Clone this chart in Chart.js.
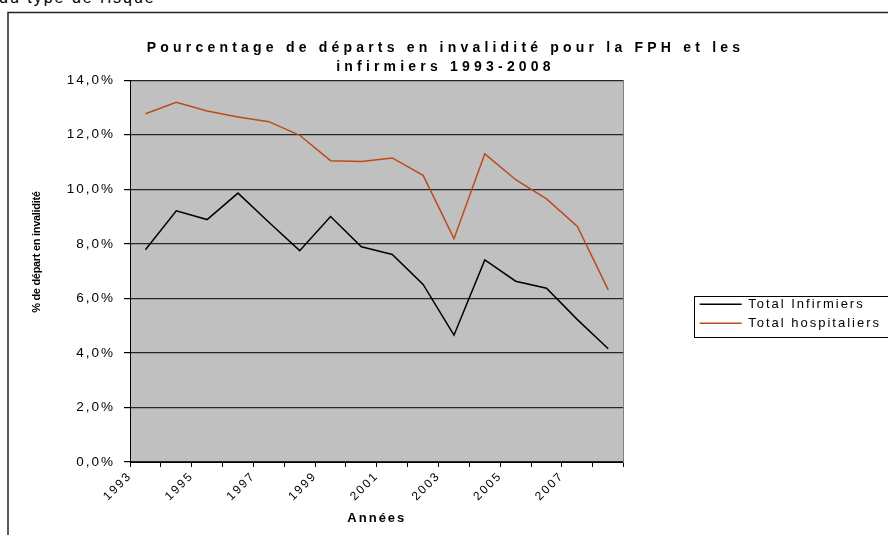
<!DOCTYPE html>
<html>
<head>
<meta charset="utf-8">
<title>Départs en invalidité FPH / infirmiers</title>
<script src="https://cdn.jsdelivr.net/npm/chart.js@4"></script>
<style>
  html, body { margin: 0; padding: 0; overflow: hidden; background: #fff; }
  #top-note {
    position: absolute; left: -1px; top: -10px;
    font: 16px Arial, "Liberation Sans", sans-serif; line-height: 16px;
    letter-spacing: 2px; color: #000; white-space: nowrap;
  }
  #wrap { position: absolute; left: 0; top: 0; width: 891px; height: 535px; }
</style>
</head>
<body>
<div id="top-note">du type de risque</div>
<div id="wrap"><canvas id="invalidite-chart"></canvas></div>
<script>
// données (en %)
const years = ["1993", "1994", "1995", "1996", "1997", "1998", "1999", "2000",
  "2001", "2002", "2003", "2004", "2005", "2006", "2007", "2008"];
const infirmiers = [7.78, 9.21, 8.89, 9.86, 8.79, 7.75, 9.0, 7.89,
  7.61, 6.51, 4.65, 7.41, 6.63, 6.37, 5.22, 4.15];
const hospitaliers = [12.77, 13.19, 12.87, 12.65, 12.48, 11.98, 11.05, 11.02,
  11.15, 10.51, 8.19, 11.3, 10.35, 9.65, 8.64, 6.31];
const shownYears = ["1993", "1995", "1997", "1999", "2001", "2003", "2005", "2007"];
const yMin = 0;
const yMax = 14;
const yStep = 2;

const FONT = "Arial, 'Liberation Sans', sans-serif";

// le texte de l'original est très étiré en largeur
function withSpacing(ctx, spacing, fn) {
  const old = ctx.letterSpacing;
  ctx.letterSpacing = spacing;
  fn();
  ctx.letterSpacing = old;
}

// fond gris de la zone de tracé, cadre du graphique, cadre de la légende
const excelLook = {
  id: "excelLook",
  beforeLayout(chart) {
    chart.ctx.letterSpacing = "2px";
  },
  afterLayout(chart) {
    const y = chart.scales.y;
    if (!y._tight) {
      const drawTitle = y.drawTitle;
      y.drawTitle = function () {
        const ctx = this.ctx;
        ctx.save();
        ctx.translate(0, -19);
        withSpacing(ctx, "-0.3px", () => drawTitle.call(this));
        ctx.restore();
      };
      y._tight = true;
    }
    const t = chart.titleBlock;
    if (t && !t._wide) {
      const draw = t.draw;
      t.draw = function () {
        withSpacing(this.ctx, "4.2px", () => draw.call(this));
      };
      t._wide = true;
    }
  },
  beforeDraw(chart) {
    const { ctx, chartArea: a } = chart;
    ctx.letterSpacing = "2px";
    ctx.save();
    ctx.strokeStyle = "#222";
    ctx.lineWidth = 1.5;
    ctx.beginPath();
    ctx.moveTo(8, chart.height + 5);
    ctx.lineTo(8, 12.5);
    ctx.lineTo(chart.width + 5, 12.5);
    ctx.stroke();
    ctx.fillStyle = "#c0c0c0";
    ctx.fillRect(a.left, a.top, a.right - a.left, a.bottom - a.top);
    ctx.restore();
  },
  afterDraw(chart) {
    const { ctx, legend } = chart;
    const hb = legend.legendHitBoxes;
    if (!hb || !hb.length) return;
    const last = hb[hb.length - 1];
    const top = hb[0].top - 2;
    const bottom = last.top + last.height + 7;
    ctx.save();
    ctx.strokeStyle = "#000";
    ctx.lineWidth = 1;
    ctx.strokeRect(Math.round(legend.left) + 0.5, Math.round(top) + 0.5, legend.width + 20, Math.round(bottom - top));
    ctx.restore();
  },
};

const config = {
  type: "line",
  data: {
    labels: years,
    datasets: [
      {
        label: "Total Infirmiers",
        data: infirmiers,
        borderColor: "#000000",
        backgroundColor: "#000000",
        borderWidth: 1.5,
        pointRadius: 0,
        tension: 0,
      },
      {
        label: "Total hospitaliers",
        data: hospitaliers,
        borderColor: "#bc4a1c",
        backgroundColor: "#bc4a1c",
        borderWidth: 1.5,
        pointRadius: 0,
        tension: 0,
      },
    ],
  },
  options: {
    responsive: true,
    maintainAspectRatio: false,
    animation: false,
    events: [],
    plugins: {
      title: {
        display: true,
        text: ["Pourcentage de départs en invalidité pour la FPH et les", "infirmiers 1993-2008"],
        color: "#000",
        font: { family: FONT, size: 14, weight: "bold", lineHeight: 1.4 },
        padding: { top: 38, bottom: 3 },
      },
      legend: {
        display: true,
        position: "right",
        maxWidth: 260,
        title: {
          display: true,
          text: " ",
          font: { family: FONT, size: 10, lineHeight: 1.2 },
          padding: { top: 80.6, bottom: 0 },
        },
        labels: {
          usePointStyle: true,
          pointStyle: "line",
          pointStyleWidth: 42,
          padding: 6,
          color: "#000",
          font: { family: FONT, size: 13 },
        },
      },
      tooltip: { enabled: false },
    },
    scales: {
      x: {
        type: "category",
        offset: true,
        grid: {
          offset: true,
          drawOnChartArea: false,
          drawTicks: true,
          tickLength: 5,
          color: "#000",
        },
        border: { display: true, color: "#000", width: 1 },
        ticks: {
          autoSkip: false,
          maxRotation: 45,
          minRotation: 45,
          labelOffset: -15.4,
          padding: 2,
          color: "#000",
          font: { family: FONT, size: 12 },
          callback(value, index) {
            return shownYears.includes(years[index]) ? years[index] : "";
          },
        },
        title: {
          display: true,
          text: "Années",
          color: "#000",
          font: { family: FONT, size: 13, weight: "bold" },
          padding: { top: 0, bottom: 9 },
        },
        afterFit(scale) {
          scale.height = 73;
        },
      },
      y: {
        min: yMin,
        max: yMax,
        grid: {
          color: "#262626",
          lineWidth: 1.2,
          tickLength: 6,
          tickColor: "#000",
        },
        border: { display: true, color: "#000", width: 1 },
        ticks: {
          stepSize: yStep,
          padding: 9,
          color: "#000",
          font: { family: FONT, size: 13.5 },
          callback(value) {
            return value.toFixed(1).replace(".", ",") + "%";
          },
        },
        title: {
          display: true,
          text: "% de départ en invalidité",
          color: "#000",
          font: { family: FONT, size: 11, weight: "bold" },
          padding: { top: 30, bottom: 0 },
        },
        afterFit(scale) {
          scale.width = 130;
        },
      },
      y2: {
        type: "linear",
        position: "right",
        display: true,
        grid: { display: false, drawOnChartArea: false, drawTicks: false },
        border: { display: true, color: "#808080", width: 1 },
        ticks: { display: false },
        afterFit(scale) {
          scale.width = 70;
        },
      },
    },
  },
  plugins: [excelLook],
};

const ctx = document.getElementById("invalidite-chart").getContext("2d");
const invaliditeChart = new Chart(ctx, config);
</script>
</body>
</html>
